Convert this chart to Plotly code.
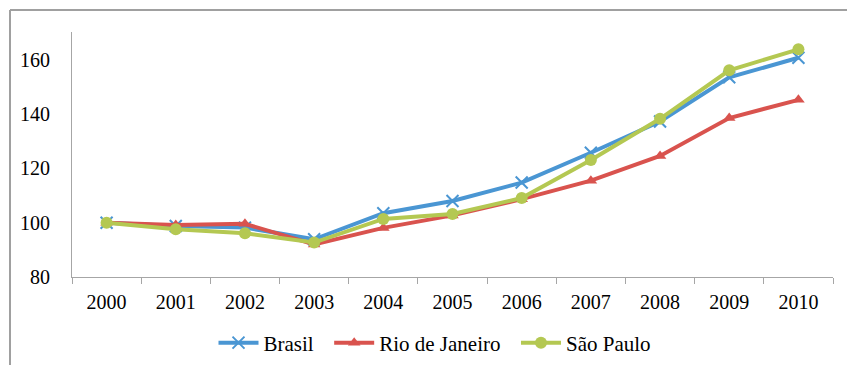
import plotly.graph_objects as go

years = ["2000", "2001", "2002", "2003", "2004", "2005", "2006", "2007", "2008", "2009", "2010"]
brasil = [100, 98.8, 98.2, 93.9, 103.5, 108.0, 114.8, 125.8, 137.3, 153.6, 160.8]
rio = [100, 99.2, 99.6, 92.0, 98.1, 102.7, 108.7, 115.5, 124.6, 138.6, 145.3]
sao_paulo = [100, 97.6, 96.1, 92.7, 101.4, 103.2, 109.1, 123.1, 138.3, 156.2, 163.9]
y_ticks = [80, 100, 120, 140, 160]
names = ["Brasil", "Rio de Janeiro", "São Paulo"]

FONT = "Liberation Serif"
blue = "#4a96d3"
red = "#d9534e"
green = "#b4c852"
PAD = "\u00a0\u00a0"

fig = go.Figure()
fig.add_trace(go.Scatter(x=years, y=brasil, name=names[0] + PAD, mode="lines+markers",
                         line=dict(color=blue, width=4),
                         marker=dict(symbol="x-thin", size=12, line=dict(color=blue, width=2), color=blue)))
fig.add_trace(go.Scatter(x=years, y=rio, name=names[1] + PAD, mode="lines+markers",
                         line=dict(color=red, width=4),
                         marker=dict(symbol="triangle-up", size=11, color=red)))
fig.add_trace(go.Scatter(x=years, y=sao_paulo, name=names[2], mode="lines+markers",
                         line=dict(color=green, width=4),
                         marker=dict(symbol="circle", size=12, color=green)))

L, R, T, B = 72, 14, 32, 88
W, H = 847, 365
pw = W - L - R
ph = H - T - B

def px_x(p):
    return (p - L) / pw

def px_y(p):
    return (H - B - p) / ph

fig.update_layout(
    width=W, height=H,
    margin=dict(l=L, r=R, t=T, b=B, autoexpand=False),
    paper_bgcolor="white", plot_bgcolor="white",
    font=dict(family=FONT, size=20, color="black"),
    showlegend=True,
    legend=dict(orientation="h", x=px_x(435), xanchor="center", y=px_y(343), yanchor="middle",
                font=dict(family=FONT, size=21, color="black"), itemwidth=40,
                bgcolor="rgba(0,0,0,0)", traceorder="normal"),
    xaxis=dict(type="category", range=[-0.5, 10.5], showline=True, linecolor="#a6a6a6", linewidth=1,
               ticks="outside", tickson="boundaries", ticklen=6, tickcolor="#a6a6a6",
               showgrid=False, zeroline=False, tickfont=dict(family=FONT, size=20),
               ticklabelstandoff=7, fixedrange=True, automargin=False),
    yaxis=dict(range=[80, 170.3], tickvals=y_ticks, showline=True, linecolor="#a6a6a6", linewidth=1,
               ticks="", showgrid=False, zeroline=False, tickfont=dict(family=FONT, size=20),
               ticklabelstandoff=17, fixedrange=True, automargin=False),
    shapes=[
        dict(type="line", xref="paper", yref="paper", x0=px_x(10), x1=px_x(900), y0=px_y(10), y1=px_y(10),
             line=dict(color="#a0a0a0", width=2)),
        dict(type="line", xref="paper", yref="paper", x0=px_x(10), x1=px_x(10), y0=px_y(10), y1=px_y(400),
             line=dict(color="#a0a0a0", width=2)),
    ],
)

fig.write_html("out.html")
